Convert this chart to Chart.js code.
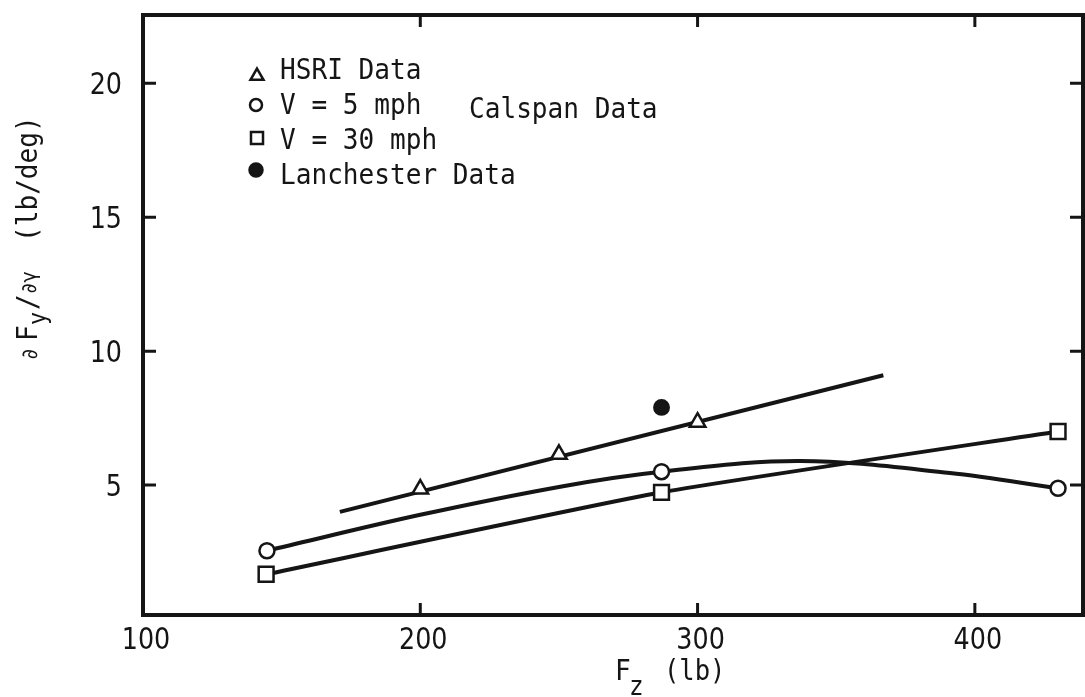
<!DOCTYPE html>
<html>
<head>
<meta charset="utf-8">
<title>Cornering stiffness vs. vertical load</title>
<script src="https://cdn.jsdelivr.net/npm/chart.js@4.4.1/dist/chart.umd.min.js"></script>
<style>
  html, body { margin: 0; padding: 0; background: #fff; }
  #wrap { width: 1085px; height: 697px; }
</style>
</head>
<body>
<div id="wrap"><canvas id="stiffChart" width="1085" height="697"></canvas></div>
<script>
// Vertical load Fz (lb) and cornering stiffness dFy/dgamma (lb/deg)
const hsriLoad = [200, 250, 300];
const hsriStiff = [4.85, 6.15, 7.35];
const hsriFitLoad = [171, 367];
const hsriFitStiff = [4.0, 9.1];

const v5Load = [144.7, 287, 430];
const v5Stiff = [2.55, 5.5, 4.88];
const v5CurveLoad = [144.7, 200, 251.5, 287, 337, 391, 430];
const v5CurveStiff = [2.55, 3.89, 4.96, 5.5, 5.9, 5.45, 4.88];

const v30Load = [144.4, 287, 430];
const v30Stiff = [1.67, 4.73, 7.0];

const lanchesterLoad = [287];
const lanchesterStiff = [7.9];

const xTicks = [100, 200, 300, 400];
const yTicks = [5, 10, 15, 20];

const INK = '#151515';
const MONO = '"DejaVu Sans Mono", monospace';
const SANS = '"DejaVu Sans", sans-serif';

function pts(xs, ys) {
    return xs.map((x, i) => ({ x: x, y: ys[i] }));
}

// draws text squeezed horizontally, like the typewriter lettering
function squeezed(ctx, str, x, y, size, family, sx, align) {
    ctx.save();
    ctx.font = size + 'px ' + family;
    ctx.textAlign = 'left';
    ctx.textBaseline = 'alphabetic';
    const w = ctx.measureText(str).width * sx;
    let x0 = x;
    if (align === 'right') x0 = x - w;
    if (align === 'center') x0 = x - w / 2;
    ctx.translate(x0, y);
    ctx.scale(sx, 1);
    ctx.fillText(str, 0, 0);
    ctx.restore();
    return w;
}

const framePlugin = {
    id: 'frame',
    beforeDatasetsDraw(chart) {
        const ctx = chart.ctx;
        const a = chart.chartArea;
        const xs = chart.scales.x;
        const ys = chart.scales.y;
        ctx.save();
        ctx.strokeStyle = INK;
        ctx.lineWidth = 4;
        ctx.strokeRect(a.left, a.top, a.right - a.left, a.bottom - a.top);

        // inward tick marks on all four sides
        ctx.lineWidth = 3;
        xs.ticks.forEach(t => {
            if (t.value === xs.min) return;
            const px = xs.getPixelForValue(t.value);
            ctx.beginPath();
            ctx.moveTo(px, a.bottom);
            ctx.lineTo(px, a.bottom - 12);
            ctx.moveTo(px, a.top);
            ctx.lineTo(px, a.top + 12);
            ctx.stroke();
        });
        ys.ticks.forEach(t => {
            const py = ys.getPixelForValue(t.value);
            ctx.beginPath();
            ctx.moveTo(a.left, py);
            ctx.lineTo(a.left + 13, py);
            ctx.moveTo(a.right, py);
            ctx.lineTo(a.right - 13, py);
            ctx.stroke();
        });
        ctx.restore();
    },
    afterDraw(chart) {
        const ctx = chart.ctx;
        const xs = chart.scales.x;
        const ys = chart.scales.y;
        ctx.save();
        ctx.fillStyle = INK;

        // tick labels
        xs.ticks.forEach(t => {
            const px = xs.getPixelForValue(t.value);
            squeezed(ctx, String(t.value), px + 3, 649, 31, SANS, 0.82, 'center');
        });
        ys.ticks.forEach(t => {
            const py = ys.getPixelForValue(t.value);
            squeezed(ctx, String(t.value), 122, py + 11, 31, SANS, 0.82, 'right');
        });

        // x axis title: Fz (lb)
        squeezed(ctx, 'F', 615, 680, 29, MONO, 0.9, 'left');
        squeezed(ctx, 'z', 629, 695, 27, MONO, 0.9, 'left');
        squeezed(ctx, '(lb)', 664, 680, 29, MONO, 0.88, 'left');

        // y axis title, running bottom to top
        ctx.save();
        ctx.translate(37, 360);
        ctx.rotate(-Math.PI / 2);
        squeezed(ctx, '\u2202', 0, 0, 22, MONO, 0.9, 'left');
        squeezed(ctx, 'F', 19, 0, 29, MONO, 0.9, 'left');
        squeezed(ctx, 'y', 35, 9, 24, MONO, 0.9, 'left');
        squeezed(ctx, '/', 50, 0, 29, MONO, 0.9, 'left');
        squeezed(ctx, '\u2202\u03b3', 66, -1, 21, MONO, 0.9, 'left');
        squeezed(ctx, '(lb/deg)', 118, 0, 29, MONO, 0.9, 'left');
        ctx.restore();

        // key
        const rows = [
            { style: 'triangle', r: 7.5, fill: '#fff', x: 257, y: 76, text: 'HSRI Data', base: 79 },
            { style: 'circle', r: 6, fill: '#fff', x: 256, y: 105, text: 'V = 5 mph', base: 114 },
            { style: 'rect', r: 8.5, fill: '#fff', x: 257, y: 138, text: 'V = 30 mph', base: 149 },
            { style: 'circle', r: 6.5, fill: INK, x: 256, y: 170, text: 'Lanchester Data', base: 184 }
        ];
        rows.forEach(row => {
            ctx.save();
            ctx.fillStyle = row.fill;
            ctx.strokeStyle = INK;
            ctx.lineWidth = 2.5;
            Chart.helpers.drawPoint(ctx, { pointStyle: row.style, radius: row.r, rotation: 0, borderWidth: 2.5 }, row.x, row.y);
            ctx.restore();
            squeezed(ctx, row.text, 280, row.base, 29, MONO, 0.9, 'left');
        });
        squeezed(ctx, 'Calspan Data', 469, 118, 29, MONO, 0.9, 'left');
        ctx.restore();
    }
};

const markerBase = {
    showLine: false,
    borderColor: INK,
    backgroundColor: '#fff',
    pointBorderWidth: 2.5,
    pointBorderColor: INK,
    pointBackgroundColor: '#fff'
};
const curveBase = {
    showLine: true,
    borderColor: INK,
    borderWidth: 4,
    pointRadius: 0,
    fill: false
};

new Chart(document.getElementById('stiffChart').getContext('2d'), {
    type: 'scatter',
    data: {
        datasets: [
            Object.assign({}, markerBase, { label: 'HSRI Data', data: pts(hsriLoad, hsriStiff), pointStyle: 'triangle', pointRadius: 9 }),
            Object.assign({}, markerBase, { label: 'V = 5 mph', data: pts(v5Load, v5Stiff), pointStyle: 'circle', pointRadius: 7.5 }),
            Object.assign({}, markerBase, { label: 'V = 30 mph', data: pts(v30Load, v30Stiff), pointStyle: 'rect', pointRadius: 10.5 }),
            Object.assign({}, markerBase, { label: 'Lanchester Data', data: pts(lanchesterLoad, lanchesterStiff), pointStyle: 'circle', pointRadius: 7.2, pointBackgroundColor: INK }),
            Object.assign({}, curveBase, { label: 'HSRI fit', data: pts(hsriFitLoad, hsriFitStiff), tension: 0 }),
            Object.assign({}, curveBase, { label: '5 mph fit', data: pts(v5CurveLoad, v5CurveStiff), tension: 0.35 }),
            Object.assign({}, curveBase, { label: '30 mph fit', data: pts(v30Load, v30Stiff), tension: 0.15 })
        ]
    },
    options: {
        responsive: false,
        animation: false,
        devicePixelRatio: 1,
        layout: {
            autoPadding: false,
            padding: { top: 15, right: 2, left: 0, bottom: 0 }
        },
        plugins: {
            legend: { display: false },
            tooltip: { enabled: false }
        },
        scales: {
            x: {
                type: 'linear',
                min: 100,
                max: 439,
                grid: { display: false },
                border: { display: false },
                ticks: { display: false },
                afterBuildTicks: s => { s.ticks = xTicks.map(v => ({ value: v })); },
                afterFit: s => { s.height = 82; }
            },
            y: {
                type: 'linear',
                min: 0.15,
                max: 22.55,
                grid: { display: false },
                border: { display: false },
                ticks: { display: false },
                afterBuildTicks: s => { s.ticks = yTicks.map(v => ({ value: v })); },
                afterFit: s => { s.width = 143; }
            }
        }
    },
    plugins: [framePlugin]
});
</script>
</body>
</html>
